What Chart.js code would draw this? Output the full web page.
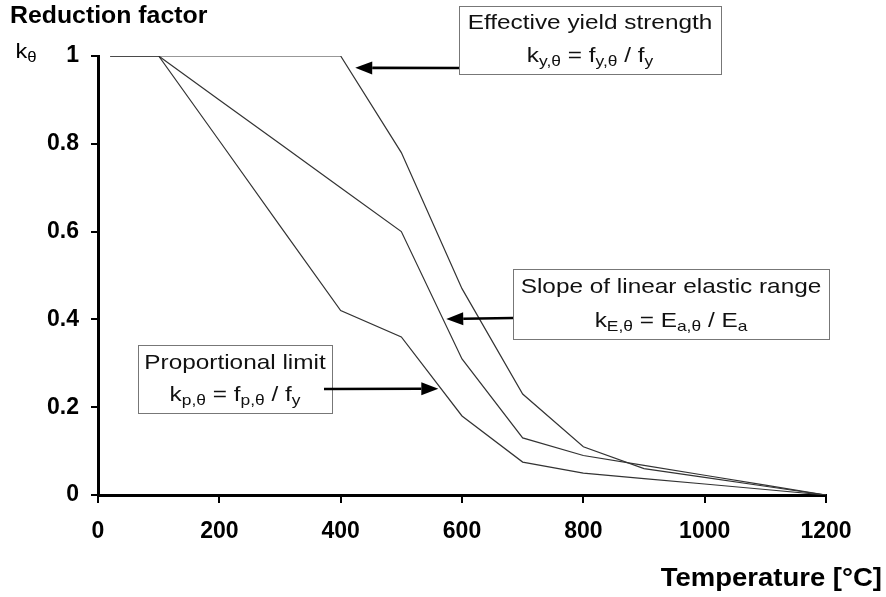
<!DOCTYPE html>
<html>
<head>
<meta charset="utf-8">
<script src="https://cdn.jsdelivr.net/npm/chart.js@4/dist/chart.umd.min.js"></script>
<style>
    html, body { margin: 0; padding: 0; background: #fff; }
    #wrap { width: 886px; height: 597px; position: relative; }
</style>
</head>
<body>
<div id="wrap"><canvas id="chart"></canvas></div>
<script>
// Temperatures [°C] and reduction factors (EN 1993-1-2 style curves)
const temps = [20, 100, 200, 300, 400, 500, 600, 700, 800, 900, 1000, 1100, 1200];
const kYield = [1, 1, 1, 1, 1, 0.78, 0.47, 0.23, 0.11, 0.06, 0.04, 0.02, 0];
const kElastic = [1, 1, 0.9, 0.8, 0.7, 0.6, 0.31, 0.13, 0.09, 0.0675, 0.045, 0.0225, 0];
const kProp = [1, 1, 0.807, 0.613, 0.42, 0.36, 0.18, 0.075, 0.05, 0.0375, 0.025, 0.0125, 0];

const xTicks = [0, 200, 400, 600, 800, 1000, 1200];
const yTicks = [0, 0.2, 0.4, 0.6, 0.8, 1];

const FONT = "'Liberation Sans', Arial, sans-serif";

function pairs(ys) {
    return temps.map((t, i) => ({ x: t, y: ys[i] }));
}

function lineSet(label, ys) {
    return {
        label: label,
        data: pairs(ys),
        borderColor: '#333',
        borderWidth: 1.2,
        pointRadius: 0,
        tension: 0,
        fill: false
    };
}

// text stretched horizontally by sx around its anchor
function wideText(ctx, text, x, y, sx, align) {
    ctx.save();
    ctx.translate(x, y);
    ctx.scale(sx, 1);
    ctx.textAlign = align;
    ctx.textBaseline = "middle";
    ctx.fillText(text, 0, 0);
    ctx.restore();
}

// draw text made of normal / subscript parts, centred on cx
function drawRich(ctx, parts, cx, cy, size, sx) {
    const subSize = Math.round(size * 0.72);
    let total = 0;
    parts.forEach(p => {
        ctx.font = (p.sub ? subSize : size) + "px " + FONT;
        p.w = ctx.measureText(p.t).width * sx;
        total += p.w;
    });
    let x = cx - total / 2;
    parts.forEach(p => {
        ctx.font = (p.sub ? subSize : size) + "px " + FONT;
        wideText(ctx, p.t, x, p.sub ? cy + size * 0.3 : cy, sx, "left");
        x += p.w;
    });
}

function arrow(ctx, x1, y1, x2, y2) {
    const ang = Math.atan2(y2 - y1, x2 - x1);
    const head = 17, half = 6.5;
    const bx = x2 - head * Math.cos(ang), by = y2 - head * Math.sin(ang);
    ctx.strokeStyle = "#000";
    ctx.lineWidth = 2.6;
    ctx.beginPath();
    ctx.moveTo(x1, y1);
    ctx.lineTo(bx, by);
    ctx.stroke();
    ctx.fillStyle = "#000";
    ctx.beginPath();
    ctx.moveTo(x2, y2);
    ctx.lineTo(bx - half * Math.sin(ang), by + half * Math.cos(ang));
    ctx.lineTo(bx + half * Math.sin(ang), by - half * Math.cos(ang));
    ctx.closePath();
    ctx.fill();
}

// callout boxes: box in px, arrow tip in data units
const notes = [
    { box: [459, 6, 262, 68], lines: [
        [{ t: "Effective yield strength" }],
        [{ t: "k" }, { t: "y,θ", sub: true }, { t: " = f" }, { t: "y,θ", sub: true }, { t: " / f" }, { t: "y", sub: true }]
      ], ly: [23, 56], from: [459, 68], tip: [424, 0.973] },
    { box: [513, 269, 316, 70], lines: [
        [{ t: "Slope of linear elastic range" }],
        [{ t: "k" }, { t: "E,θ", sub: true }, { t: " = E" }, { t: "a,θ", sub: true }, { t: " / E" }, { t: "a", sub: true }]
      ], ly: [287, 321], from: [513, 318], tip: [574, 0.401] },
    { box: [138, 345, 194, 68], lines: [
        [{ t: "Proportional limit" }],
        [{ t: "k" }, { t: "p,θ", sub: true }, { t: " = f" }, { t: "p,θ", sub: true }, { t: " / f" }, { t: "y", sub: true }]
      ], ly: [363, 395], from: [324, 389], tip: [561, 0.242] }
];

const decorations = {
    id: 'decorations',
    afterDraw(chart) {
        const ctx = chart.ctx;
        const xs = chart.scales.x, ys = chart.scales.y;
        ctx.save();
        ctx.fillStyle = "#000";
        ctx.font = "bold 23px " + FONT;
        wideText(ctx, "Reduction factor", 10, 17, 1.08, "left");
        drawRich(ctx, [{ t: "k" }, { t: "θ", sub: true }], 26, 52, 21, 1.12);
        ctx.fillStyle = "#000";
        ctx.font = "bold 25px " + FONT;
        wideText(ctx, "Temperature [°C]", 882, 579, 1.1, "right");

        notes.forEach(n => {
            const [bx, by, bw, bh] = n.box;
            ctx.fillStyle = "#fff";
            ctx.fillRect(bx, by, bw, bh);
            ctx.strokeStyle = "#777";
            ctx.lineWidth = 1;
            ctx.strokeRect(bx + 0.5, by + 0.5, bw, bh);
            ctx.fillStyle = "#111";
            n.lines.forEach((parts, i) => drawRich(ctx, parts, bx + bw / 2, n.ly[i], 21, 1.16));
            arrow(ctx, n.from[0], n.from[1], xs.getPixelForValue(n.tip[0]), ys.getPixelForValue(n.tip[1]));
        });
        ctx.restore();
    }
};

new Chart(document.getElementById('chart'), {
    type: 'line',
    data: {
        datasets: [
            lineSet('Effective yield strength', kYield),
            lineSet('Slope of linear elastic range', kElastic),
            lineSet('Proportional limit', kProp)
        ]
    },
    options: {
        responsive: true,
        maintainAspectRatio: false,
        animation: false,
        layout: { padding: { left: 0, top: 56, right: 60, bottom: 0 } },
        plugins: { legend: { display: false }, tooltip: { enabled: false } },
        scales: {
            x: {
                type: 'linear',
                min: 0, max: 1200,
                afterBuildTicks: s => { s.ticks = xTicks.map(v => ({ value: v })); },
                afterFit: s => { s.height = 102; },
                grid: { drawOnChartArea: false, drawTicks: true, tickLength: 8, color: '#000', lineWidth: 2 },
                border: { color: '#000', width: 3 },
                ticks: { color: '#000', padding: 15, font: { family: FONT, size: 23, weight: 'bold' },
                         callback: v => String(v) }
            },
            y: {
                type: 'linear',
                min: 0, max: 1,
                afterBuildTicks: s => { s.ticks = yTicks.map(v => ({ value: v })); },
                afterFit: s => { s.width = 98; },
                grid: { drawOnChartArea: false, drawTicks: true, tickLength: 7, color: '#000', lineWidth: 2 },
                border: { color: '#000', width: 3 },
                ticks: { color: '#000', padding: 12, font: { family: FONT, size: 23, weight: 'bold' },
                         callback: v => String(v) }
            }
        }
    },
    plugins: [decorations]
});
</script>
</body>
</html>
